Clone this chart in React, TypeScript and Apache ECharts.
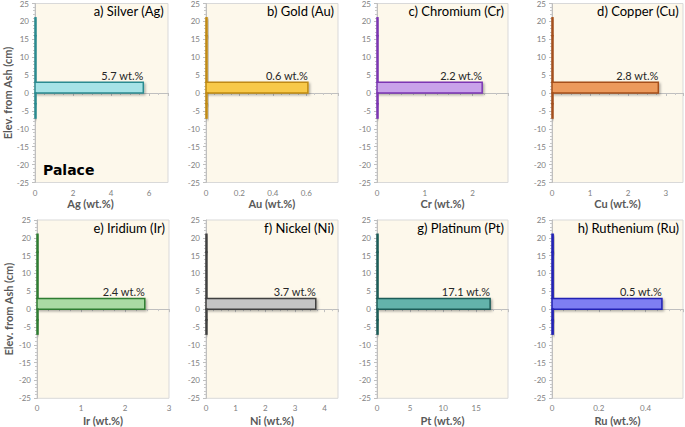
import React, { useEffect, useRef } from "react";
import * as echarts from "echarts";

// Elevation intervals (cm from ash): top and bottom of each sampled layer
const layerTop = [21, 16, 3, 0, -3];
const layerBottom = [16, 3, 0, -3, -7];

// Concentrations (wt.%) per layer
const agValues = [0.05, 0.05, 5.7, 0.05, 0.05];
const auValues = [0.006, 0.006, 0.61, 0.006, 0.006];
const crValues = [0.02, 0.02, 2.2, 0.02, 0.02];
const cuValues = [0.025, 0.025, 2.8, 0.025, 0.025];
const irValues = [0.022, 0.022, 2.45, 0.022, 0.022];
const niValues = [0.03, 0.03, 3.7, 0.03, 0.03];
const ptValues = [0.15, 0.15, 17.1, 0.15, 0.15];
const ruValues = [0.005, 0.005, 0.47, 0.005, 0.005];

const peakLabels = ["5.7 wt.%", "0.6 wt.%", "2.2 wt.%", "2.8 wt.%", "2.4 wt.%", "3.7 wt.%", "17.1 wt.%", "0.5 wt.%"];
const panelTitles = ["a) Silver (Ag)", "b) Gold (Au)", "c) Chromium (Cr)", "d) Copper (Cu)", "e) Iridium (Ir)", "f) Nickel (Ni)", "g) Platinum (Pt)", "h) Ruthenium (Ru)"];
const xAxisNames = ["Ag (wt.%)", "Au (wt.%)", "Cr (wt.%)", "Cu (wt.%)", "Ir (wt.%)", "Ni (wt.%)", "Pt (wt.%)", "Ru (wt.%)"];
const xMaxes = [7, 0.79, 2.74, 3.45, 3, 4.45, 19.8, 0.56];
const xIntervals = [2, 0.2, 1, 1, 1, 1, 5, 0.2];
const showXMax = [false, false, false, false, true, false, false, false];
const yTicks = { min: -25, max: 25, interval: 5 };
const siteLabel = "Palace";
const yAxisName = "Elev. from Ash (cm)";

const allValues = [agValues, auValues, crValues, cuValues, irValues, niValues, ptValues, ruValues];

const fills = ["#a6e3e6", "#f8c94a", "#c9a2ea", "#ec9a5c", "#a9dba4", "#c4c4c4", "#63b3ab", "#7e7ef2"];
const strokes = ["#2b8b90", "#c08a12", "#7b35b3", "#a5501a", "#2f7d31", "#3f3f3f", "#1d5d58", "#2222b4"];

const gridLefts = [35, 206, 377, 552, 37, 206, 377, 552];
const gridWidths = [133, 132, 131, 131, 132, 132, 131, 131];
const gridTops = [3.5, 3.5, 3.5, 3.5, 220, 220, 220, 220];
const gridHeights = [179, 179, 179, 179, 178.3, 178.3, 178.3, 178.3];

const FONT = "Lato, 'Open Sans', sans-serif";

export default function App() {
  const ref = useRef<HTMLDivElement>(null);
  useEffect(() => {
    document.body.style.margin = "0";
    if (!ref.current) return;
    const chart = echarts.init(ref.current, undefined, { renderer: "svg" });

    const grids: any[] = [];
    const xAxes: any[] = [];
    const yAxes: any[] = [];
    const series: any[] = [];
    const titles: any[] = [];

    for (let i = 0; i < 8; i++) {
      grids.push({
        left: gridLefts[i],
        top: gridTops[i],
        width: gridWidths[i],
        height: gridHeights[i],
        show: true,
        backgroundColor: "#fdf8eb",
        borderColor: "#d9d9d9",
        borderWidth: 1,
        containLabel: false,
        outerBoundsMode: "none",
      });
      xAxes.push({
        type: "value",
        gridIndex: i,
        min: 0,
        max: xMaxes[i],
        interval: xIntervals[i],
        name: xAxisNames[i],
        nameLocation: "middle",
        nameGap: i < 4 ? 15 : 17,
        nameTextStyle: {
          fontFamily: FONT,
          fontSize: 11,
          fontWeight: "bold",
          color: "#595959",
          padding: i === 0 ? [0, 22, 0, 0] : 0,
        },
        axisLine: { show: true, lineStyle: { color: "#bfbfbf", width: 1 } },
        axisTick: { show: true, length: 3, lineStyle: { color: "#bfbfbf" } },
        minorTick: { show: true, splitNumber: 4, length: 2, lineStyle: { color: "#c8c8c8" } },
        splitLine: { show: false },
        axisLabel: {
          fontFamily: FONT,
          fontSize: 8,
          color: "#808080",
          margin: 6,
          showMaxLabel: showXMax[i],
        },
      });
      yAxes.push({
        type: "value",
        gridIndex: i,
        min: yTicks.min,
        max: yTicks.max,
        interval: yTicks.interval,
        name: i % 4 === 0 ? yAxisName : "",
        nameLocation: "middle",
        nameGap: i === 0 ? 21 : 23,
        nameTextStyle: { fontFamily: FONT, fontSize: 11, fontWeight: "bold", color: "#595959" },
        axisLine: { show: true, lineStyle: { color: "#bfbfbf", width: 1 } },
        axisTick: { show: true, length: 3, lineStyle: { color: "#bfbfbf" } },
        minorTick: { show: true, splitNumber: 5, length: 2, lineStyle: { color: "#c8c8c8" } },
        splitLine: { show: false },
        axisLabel: { fontFamily: FONT, fontSize: 8, color: "#808080", margin: 6 },
      });

      const vals = allValues[i];
      const peakIdx = vals.indexOf(Math.max(...vals));
      const fill = fills[i];
      const stroke = strokes[i];
      const label = peakLabels[i];
      series.push({
        type: "custom",
        coordinateSystem: "cartesian2d",
        xAxisIndex: i,
        yAxisIndex: i,
        clip: false,
        encode: { x: 0, y: [1, 2] },
        data: vals.map((v, k) => [v, layerBottom[k], layerTop[k]]),
        renderItem: (params: any, api: any) => {
          const v = api.value(0);
          const y0 = api.value(1);
          const y1 = api.value(2);
          const p0 = api.coord([0, y1]);
          const p1 = api.coord([v, y0]);
          const children: any[] = [
            {
              type: "rect",
              shape: { x: p0[0], y: p0[1], width: p1[0] - p0[0], height: p1[1] - p0[1] },
              style: {
                fill,
                stroke,
                lineWidth: 1.5,
                shadowBlur: 2,
                shadowOffsetX: 1.5,
                shadowOffsetY: 1.5,
                shadowColor: "rgba(0,0,0,0.3)",
              },
            },
          ];
          if (params.dataIndex === peakIdx) {
            children.push({
              type: "text",
              x: p1[0],
              y: p0[1] - 1,
              style: {
                text: label,
                align: "right",
                verticalAlign: "bottom",
                fontFamily: FONT,
                fontSize: 11,
                fill: "#262626",
              },
            });
          }
          return { type: "group", children };
        },
      });
      titles.push({
        text: panelTitles[i],
        right: 685 - (gridLefts[i] + gridWidths[i]) + 4,
        top: gridTops[i] + 1,
        padding: 0,
        textStyle: { fontFamily: FONT, fontSize: 13, fontWeight: "normal", color: "#000000" },
      });
    }

    chart.setOption({
      animation: false,
      backgroundColor: "#ffffff",
      title: titles,
      grid: grids,
      xAxis: xAxes,
      yAxis: yAxes,
      series,
      graphic: [
        {
          type: "text",
          left: 43,
          top: 163,
          style: {
            text: siteLabel,
            fontFamily: "'DejaVu Sans', Verdana, sans-serif",
            fontSize: 14,
            fontWeight: "bold",
            fill: "#000000",
          },
        },
      ],
    });
    return () => chart.dispose();
  }, []);
  return <div ref={ref} style={{ width: 685, height: 427 }} />;
}
